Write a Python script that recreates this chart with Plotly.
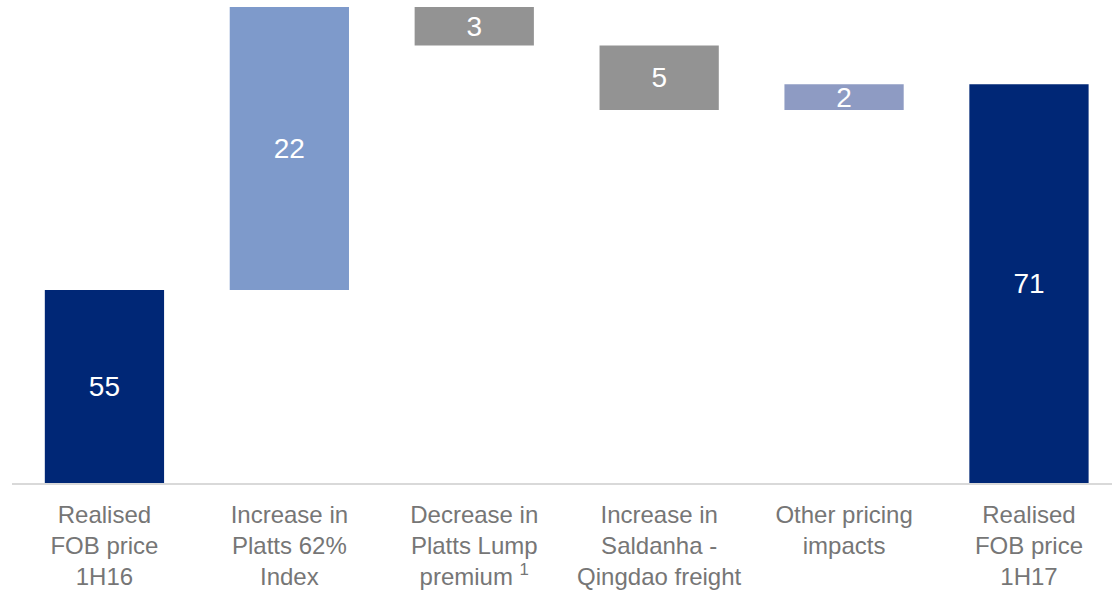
#!/usr/bin/env python3
"""Realised FOB price bridge 1H16 -> 1H17 (waterfall drawn with bar bases)."""

import plotly.graph_objects as go

# Data
categories = [
    "Realised<br>FOB price<br>1H16",
    "Increase in<br>Platts 62%<br>Index",
    "Decrease in<br>Platts Lump<br>premium <sup>1</sup>",
    "Increase in<br>Saldanha -<br>Qingdao freight",
    "Other pricing<br>impacts",
    "Realised<br>FOB price<br>1H17",
]
changes = [55, 22, -3, -5, 2, 71]
is_total = [True, False, False, False, False, True]
bar_colors = ["#002776", "#7E9ACB", "#939393", "#939393", "#8E9BC3", "#002776"]

# value axis does not start at zero in the original
axis_floor = 40
axis_top = 77.54


def build_bars(changes, is_total, floor):
    """Return base and length for each bar of the bridge."""
    bases, lengths = [], []
    running = 0
    for val, total in zip(changes, is_total):
        if total:
            bases.append(floor)
            lengths.append(val - floor)
            running = val
        else:
            bases.append(running)
            lengths.append(val)
            running += val
    return bases, lengths


bases, lengths = build_bars(changes, is_total, axis_floor)
labels = [str(abs(v)) for v in changes]

fig = go.Figure()
fig.add_trace(
    go.Bar(
        x=list(range(len(categories))),
        y=lengths,
        base=bases,
        width=0.645,
        marker=dict(color=bar_colors, line=dict(width=0)),
        text=labels,
        textposition="inside",
        insidetextanchor="middle",
        constraintext="none",
        textangle=0,
        textfont=dict(color="white", size=28, family="Arial, Liberation Sans"),
        hoverinfo="skip",
    )
)

fig.update_layout(
    width=1112,
    height=592,
    margin=dict(l=12, r=0, t=0, b=109),
    plot_bgcolor="white",
    paper_bgcolor="white",
    showlegend=False,
    font=dict(family="Arial, Liberation Sans", color="#767676", size=24),
)

fig.update_xaxes(
    range=[-0.5, 5.449],
    tickmode="array",
    tickvals=list(range(len(categories))),
    ticktext=categories,
    showgrid=False,
    showline=True,
    linecolor="#D9D9D9",
    linewidth=2,
    ticks="outside",
    ticklen=9,
    tickcolor="rgba(0,0,0,0)",
    tickfont=dict(size=24, color="#767676"),
    automargin=False,
)
fig.update_yaxes(
    range=[axis_floor, axis_top],
    visible=False,
    showgrid=False,
    automargin=False,
)

# drop the browser's default body margin so the figure sits at the page corner
fig.write_html(
    "out.html",
    config={"displayModeBar": False},
    post_script="document.body.style.margin='0';",
)
